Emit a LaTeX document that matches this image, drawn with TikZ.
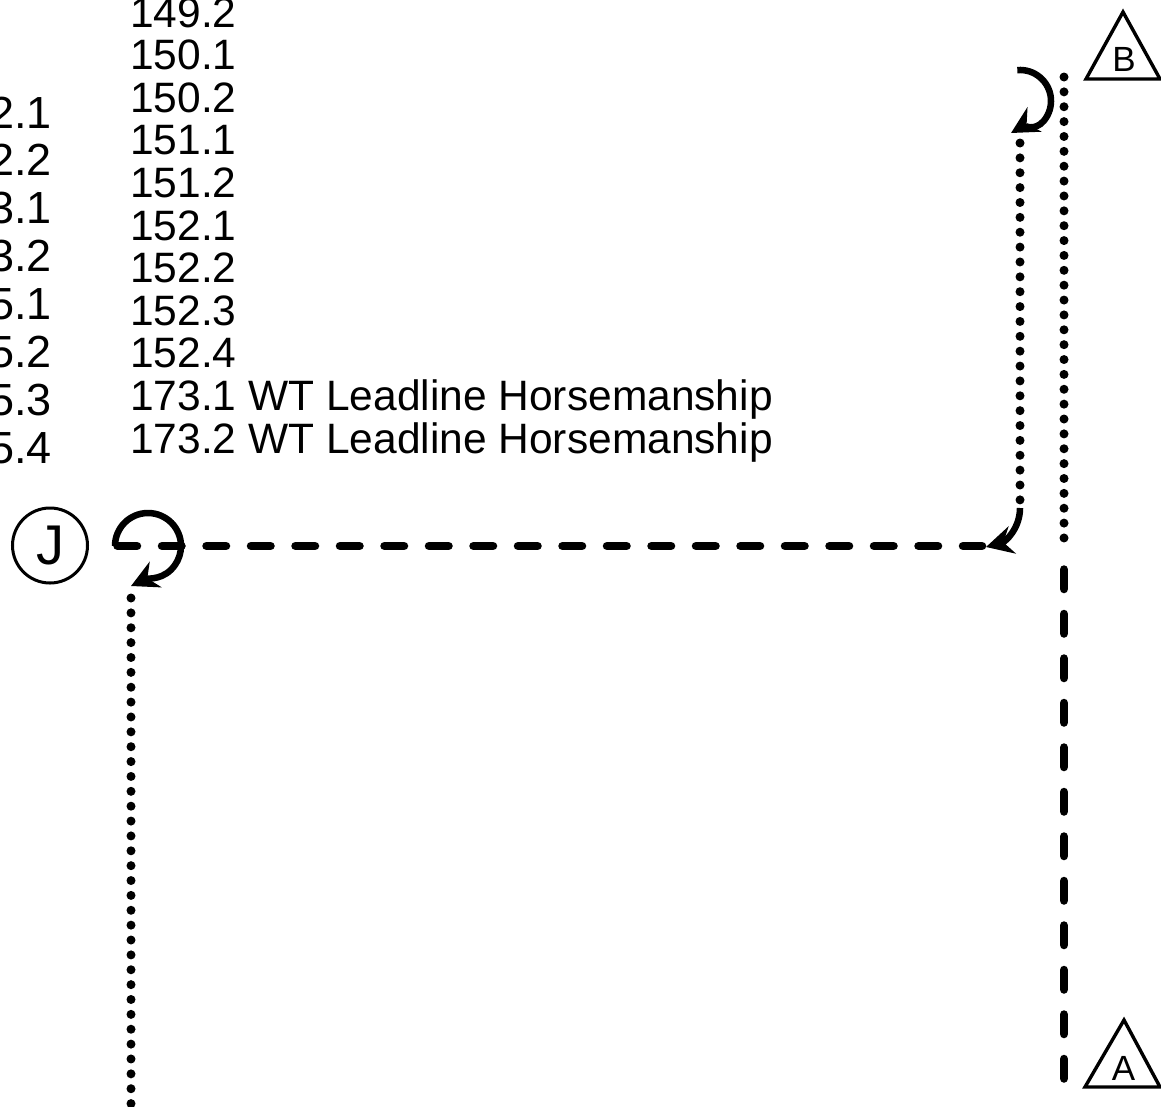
\documentclass[tikz,border=0pt]{standalone}
\usepackage{fontspec}
\setmainfont{Liberation Sans}
\usetikzlibrary{arrows.meta}
\begin{document}
\begin{tikzpicture}[x=1pt,y=1pt,
  dotline/.style={line width=9pt, line cap=round, dash pattern=on 0pt off 14.87pt},
  dashline/.style={line width=8.5pt, line cap=round, dash pattern=on 19.5pt off 25pt},
  turn/.style={line width=6.5pt, -{Stealth[length=27pt,width=28pt,inset=9pt]}},
  marker/.style={line width=3.4pt, line join=miter},
  lblR/.style={inner sep=0pt, anchor=base west, font=\fontsize{42.5}{42.5}\selectfont},
  lblL/.style={inner sep=0pt, anchor=base east, font=\fontsize{45}{45}\selectfont},
  letter/.style={inner sep=0pt, font=\fontsize{35}{35}\selectfont},
]
\useasboundingbox (0,0) rectangle (1161,-1106);

% text columns
\foreach \t [count=\i] in {149.2,150.1,150.2,151.1,151.2,152.1,152.2,152.3,152.4,173.1 WT Leadline Horsemanship,173.2 WT Leadline Horsemanship}
  \node[lblR] (r\i) at (130,{-27-(\i-1)*42.6}) {\t};
\foreach \t [count=\i] in {2.1,2.2,3.1,3.2,5.1,5.2,5.3,5.4}
  \node[lblL] (l\i) at (52,{-128-(\i-1)*47.86}) {\t};

% markers
\node[draw, circle, line width=3pt, minimum size=75pt, inner sep=0pt,
      font=\fontsize{56}{56}\selectfont] (J) at (50,-545.5) {J};
\coordinate (bL) at (1086,-79);
\coordinate (bT) at (1123,-12);
\coordinate (bR) at (1160,-79);
\draw[marker] (bL) -- (bT) -- (bR) -- cycle;
\node[letter] (B) at (1124,-59.5) {B};
\coordinate (aL) at (1085,-1087);
\coordinate (aT) at (1124,-1020);
\coordinate (aR) at (1160,-1087);
\draw[marker] (aL) -- (aT) -- (aR) -- cycle;
\node[letter] (A) at (1123.5,-1068.5) {A};

% right long line
\coordinate (rvTop) at (1064,-77);
\coordinate (rvMid) at (1064,-538);
\coordinate (rvDash) at (1064,-569.5);
\coordinate (rvBot) at (1064,-1083);
\draw[dotline] (rvTop) -- (rvMid);
\draw[dashline] (rvDash) -- (rvBot);

% top hook near B
\coordinate (hookB) at (1017.3,-70.1);
\coordinate (hookBtip) at (1011,-133);
\draw[turn] (hookB) arc[start angle=95, end angle=-40, radius=31]
  to[out=-130, in=30] (hookBtip);

% inner dotted vertical
\coordinate (ivTop) at (1020,-143);
\coordinate (ivBot) at (1020,-508);
\draw[dotline] (ivTop) -- (ivBot);
\coordinate (hookS) at (1020,-508);
\coordinate (hookE) at (986,-547);
\draw[turn] (hookS) to[out=-90, in=15] (hookE);

% horizontal dashed line
\coordinate (hS) at (117.5,-546);
\coordinate (hE) at (982,-546);
\draw[dashline] (hS) -- (hE);

% loop near J
\coordinate (jloop) at (115,-546);
\coordinate (jtip) at (131,-586);
\draw[turn] (jloop) arc[start angle=180, end angle=-35, radius=33]
  to[out=-125, in=25] (jtip);

% left dotted vertical
\coordinate (dlS) at (131,-598);
\coordinate (dlE) at (131,-1112);
\draw[dotline] (dlS) -- (dlE);
\end{tikzpicture}
\end{document}
